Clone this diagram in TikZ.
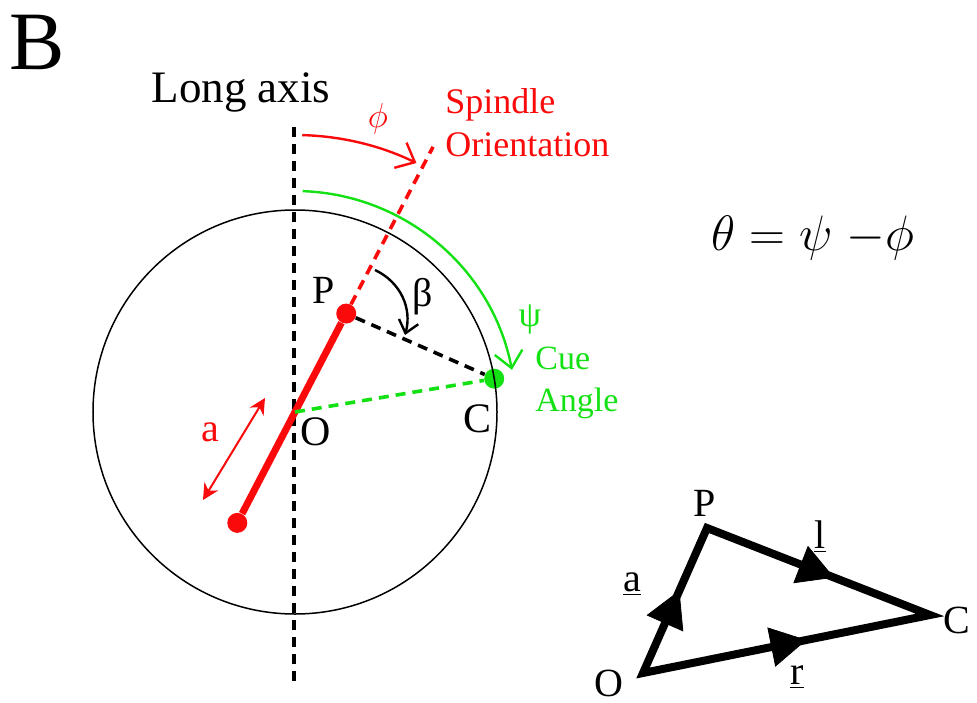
\documentclass[tikz,border=0pt]{standalone}
\usepackage{fontspec}
\setmainfont{Liberation Serif}
\usetikzlibrary{arrows.meta,calc,decorations.markings}
\definecolor{spindlered}{RGB}{250,10,10}
\definecolor{cuegreen}{RGB}{20,225,20}
\tikzset{
  lbl/.style={inner sep=0pt, font=\fontsize{20}{24}\selectfont},
  redlbl/.style={lbl, text=spindlered},
  greenlbl/.style={lbl, text=cuegreen},
  dot/.style={circle, inner sep=0pt, minimum size=10pt},
  axisline/.style={line width=2pt, dash pattern=on 5pt off 3.5pt},
  guideline/.style={line width=1.8pt, dash pattern=on 5pt off 3.5pt},
  cellrim/.style={line width=0.75pt},
  spindle/.style={line width=3.5pt, draw=spindlered},
  barbarrow/.style={-{Straight Barb[length=8pt,width=14pt]}, line width=1.2pt},
  lenarrow/.style={{Stealth[length=8pt,width=8pt]}-{Stealth[length=8pt,width=8pt]}, line width=1pt, draw=spindlered},
  vecline/.style={line width=4pt, line join=miter},
  vecmark/.style={postaction={decorate}, decoration={markings, mark=at position 0.57 with {\arrow{Triangle[length=18pt,width=20pt]}}}}
}

\begin{document}
\begin{tikzpicture}[x=0.5pt, y=0.5pt]
\useasboundingbox (-295,-290) rectangle (682,412);
\coordinate (O) at (0,0);
\coordinate (axtop) at (-1,285);
\coordinate (axbot) at (-1,-270);
\coordinate (spend) at (62.5:299);
\coordinate (phistart) at (88.5:277);
\coordinate (psistart) at (88:221);
\coordinate (bstart) at (80,142);
\coordinate (bstop) at (110,77);
\coordinate (astart) at (-92,-88);
\coordinate (aend) at (-30,14);
\node[dot, fill=spindlered] (P) at (62.5:111) {};
\node[dot, fill=spindlered] (Q) at (242.5:125) {};
\node[dot, fill=cuegreen] (C) at (9.5:202) {};
\draw[cellrim] (O) circle[radius=202];
\draw[axisline] (axtop) -- (axbot);
\draw[spindle] (Q) -- (P);
\draw[guideline, spindlered] (P) -- (spend);
\draw[guideline] (P) -- (C);
\draw[guideline, cuegreen] (O) -- (C);
\draw[barbarrow, spindlered] (phistart) arc[start angle=88.5, end angle=64, radius=277];
\draw[barbarrow, cuegreen] (psistart) arc[start angle=88, end angle=11, radius=221];
\draw[-{Straight Barb[length=6pt,width=10pt]}, line width=1.2pt] (bstart) to[bend left=40] (bstop);
\draw[lenarrow] (astart) -- (aend);
\node[lbl, font=\fontsize{41.5}{48}\selectfont] (panel) at (-258,370) {B};
\node[lbl, font=\fontsize{22.5}{26}\selectfont, anchor=base] (axislbl) at (-54,309) {Long axis};
\node[redlbl, font=\fontsize{18}{21.5}\selectfont, align=left, anchor=north west] (spindlelbl) at (150,324) {Spindle\\Orientation};
\node[redlbl, font=\fontsize{18}{21}\selectfont] (philbl) at (83,293) {$\phi$};
\node[greenlbl, font=\fontsize{18}{21}\selectfont] (psilbl) at (235,92) {ψ};
\node[greenlbl, font=\fontsize{17}{21}\selectfont, align=left, anchor=north west] (cuelbl) at (240,65) {Cue\\Angle};
\node[lbl, font=\fontsize{24.88}{28}\selectfont, anchor=base] (eq) at (518,162) {$\theta = \psi \;{-}\phi$};
\node[lbl] (Plbl) at (29,122) {P};
\node[lbl] (betalbl) at (128,115) {β};
\node[lbl, font=\fontsize{21}{24}\selectfont] (Olbl) at (21,-20) {O};
\node[lbl, font=\fontsize{21}{24}\selectfont] (Clbl) at (182,-7) {C};
\node[redlbl] (albl) at (-85,-20) {a};
\coordinate (tO) at (348,-261);
\coordinate (tP) at (412,-116);
\coordinate (tC) at (635,-203);
\draw[vecline] (tO) -- (tP) -- (tC) -- cycle;
\path[vecmark] (tO) -- (tP);
\path[vecmark] (tP) -- (tC);
\path[vecmark] (tO) -- (tC);
\node[lbl] (tPlbl) at (410,-91) {P};
\node[lbl] (llbl) at (525,-125) {\underline{l}};
\node[lbl] (tAlbl) at (337,-172) {\underline{a}};
\node[lbl] (rlbl) at (502,-265) {\underline{r}};
\node[lbl] (tOlbl) at (314,-271) {O};
\node[lbl] (tClbl) at (662,-208) {C};
\end{tikzpicture}
\end{document}
